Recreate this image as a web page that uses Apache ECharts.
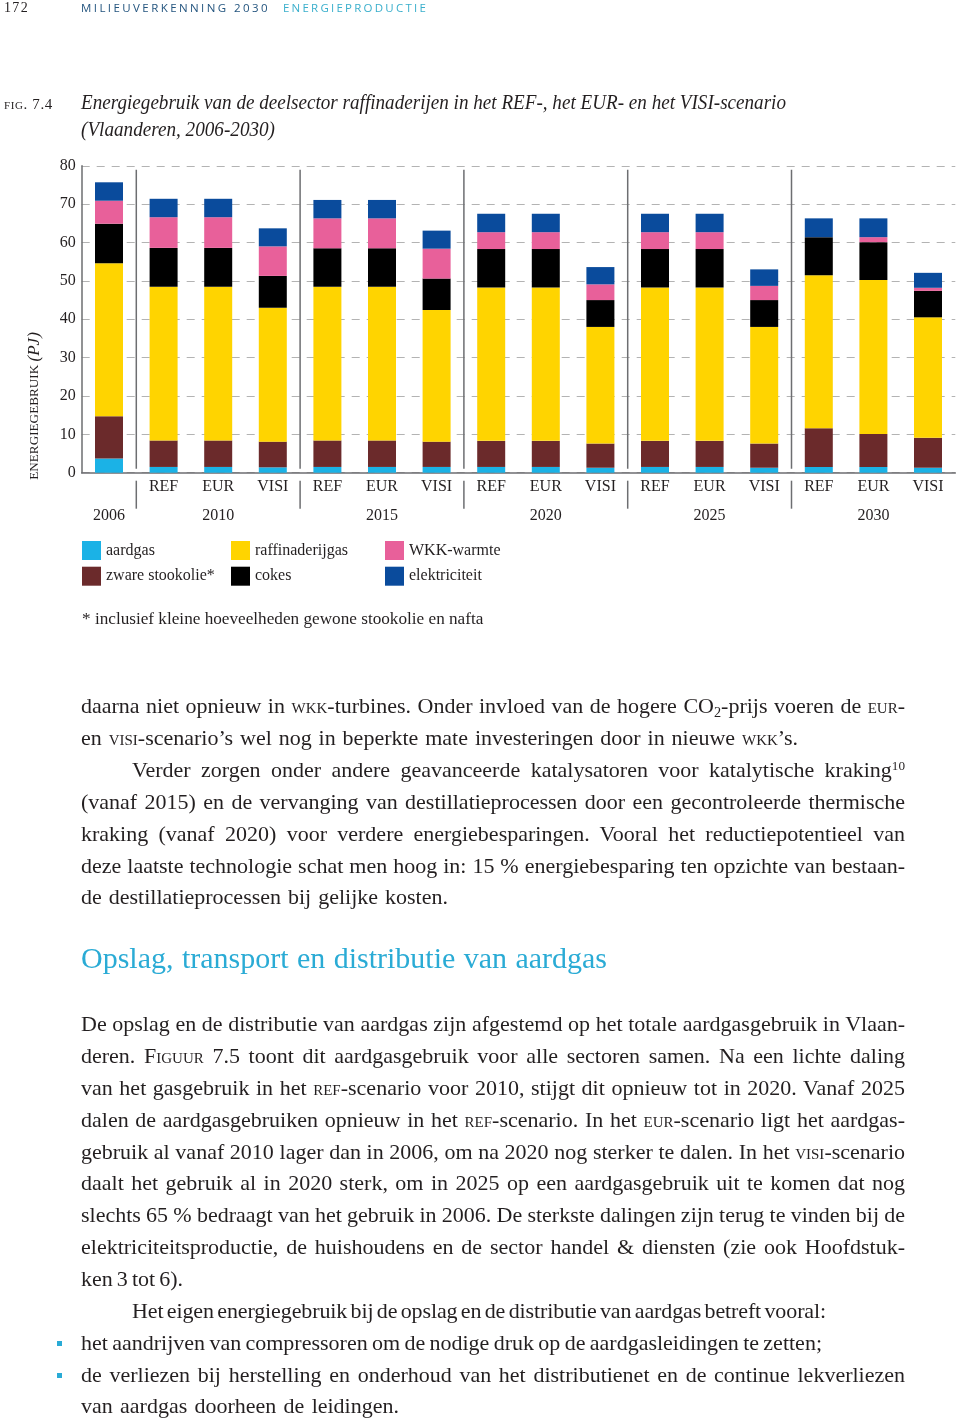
<!DOCTYPE html>
<html><head><meta charset="utf-8">
<script src="https://cdn.jsdelivr.net/npm/echarts@6/dist/echarts.min.js"></script>
<style>
html,body{margin:0;padding:0;background:#fff;}
#page{position:relative;width:960px;height:1423px;overflow:hidden;font-family:"Liberation Serif","DejaVu Serif",serif;color:#231f20;}
#chart{position:absolute;left:0;top:0;width:960px;height:1423px;}
.t{position:absolute;white-space:nowrap;transform-origin:0 50%;}
.ln{font-size:22px;line-height:32px;height:32px;}
.sc{font-variant:small-caps;}
sub{font-size:0.65em;vertical-align:-0.3em;line-height:0}
sup{font-size:0.6em;vertical-align:0.55em;line-height:0}
.bul{position:absolute;width:5px;height:5px;background:#29abd6;}
.hdr{font-family:"Open Sans","DejaVu Sans",sans-serif;font-size:11.5px;line-height:14px;}
.cap{font-style:italic;font-size:22px;line-height:26px;}
</style></head>
<body><div id="page">
<div id="chart"></div>

<div class="t" data-x="4" data-y="8" data-w="25" style="font-size:14px;line-height:16px;">172</div>
<div class="t hdr" data-x="81" data-y="8" data-w="189" data-mode="ls" style="color:#24557f;">MILIEUVERKENNING 2030</div>
<div class="t hdr" data-x="283" data-y="8" data-w="145" data-mode="ls" style="color:#3aafcc;">ENERGIEPRODUCTIE</div>

<div class="t sc" data-x="4" data-y="104" data-w="49" data-mode="ls" style="font-size:15px;line-height:18px;">fig. 7.4</div>
<div class="t cap" data-x="81" data-y="102" data-w="705" data-mode="sx">Energiegebruik van de deelsector raffinaderijen in het REF-, het EUR- en het VISI-scenario</div>
<div class="t cap" data-x="81" data-y="129" data-w="194" data-mode="sx">(Vlaanderen, 2006-2030)</div>

<div class="t ln" data-x="81" data-y="706" data-w="824">daarna niet opnieuw in <span class="sc">wkk</span>-turbines. Onder invloed van de hogere CO<sub>2</sub>-prijs voeren de <span class="sc">eur</span>-</div>
<div class="t ln" data-x="81" data-y="738" data-w="717">en <span class="sc">visi</span>-scenario’s wel nog in beperkte mate investeringen door in nieuwe <span class="sc">wkk</span>’s.</div>
<div class="t ln" data-x="132" data-y="770" data-w="773">Verder zorgen onder andere geavanceerde katalysatoren voor katalytische kraking<sup>10</sup></div>
<div class="t ln" data-x="81" data-y="802" data-w="824">(vanaf 2015) en de vervanging van destillatieprocessen door een gecontroleerde thermische</div>
<div class="t ln" data-x="81" data-y="834" data-w="824">kraking (vanaf 2020) voor verdere energiebesparingen. Vooral het reductiepotentieel van</div>
<div class="t ln" data-x="81" data-y="866" data-w="824">deze laatste technologie schat men hoog in: 15 % energiebesparing ten opzichte van bestaan-</div>
<div class="t ln" data-x="81" data-y="897" data-w="367">de destillatieprocessen bij gelijke kosten.</div>

<div class="t" data-x="81" data-y="958" data-w="526" style="font-size:30px;line-height:36px;color:#2aabd5;">Opslag, transport en distributie van aardgas</div>

<div class="t ln" data-x="81" data-y="1024" data-w="824">De opslag en de distributie van aardgas zijn afgestemd op het totale aardgasgebruik in Vlaan-</div>
<div class="t ln" data-x="81" data-y="1056" data-w="824">deren. F<span class="sc">iguur</span> 7.5 toont dit aardgasgebruik voor alle sectoren samen. Na een lichte daling</div>
<div class="t ln" data-x="81" data-y="1088" data-w="824">van het gasgebruik in het <span class="sc">ref</span>-scenario voor 2010, stijgt dit opnieuw tot in 2020. Vanaf 2025</div>
<div class="t ln" data-x="81" data-y="1120" data-w="824">dalen de aardgasgebruiken opnieuw in het <span class="sc">ref</span>-scenario. In het <span class="sc">eur</span>-scenario ligt het aardgas-</div>
<div class="t ln" data-x="81" data-y="1152" data-w="824">gebruik al vanaf 2010 lager dan in 2006, om na 2020 nog sterker te dalen. In het <span class="sc">visi</span>-scenario</div>
<div class="t ln" data-x="81" data-y="1183" data-w="824">daalt het gebruik al in 2020 sterk, om in 2025 op een aardgasgebruik uit te komen dat nog</div>
<div class="t ln" data-x="81" data-y="1215" data-w="824">slechts 65 % bedraagt van het gebruik in 2006. De sterkste dalingen zijn terug te vinden bij de</div>
<div class="t ln" data-x="81" data-y="1247" data-w="824">elektriciteitsproductie, de huishoudens en de sector handel &amp; diensten (zie ook Hoofdstuk-</div>
<div class="t ln" data-x="81" data-y="1279" data-w="102">ken 3 tot 6).</div>
<div class="t ln" data-x="132" data-y="1311" data-w="694">Het eigen energiegebruik bij de opslag en de distributie van aardgas betreft vooral:</div>
<div class="bul" style="left:57px;top:1341px;"></div>
<div class="t ln" data-x="81" data-y="1343" data-w="741">het aandrijven van compressoren om de nodige druk op de aardgasleidingen te zetten;</div>
<div class="bul" style="left:57px;top:1373px;"></div>
<div class="t ln" data-x="81" data-y="1375" data-w="824">de verliezen bij herstelling en onderhoud van het distributienet en de continue lekverliezen</div>
<div class="t ln" data-x="81" data-y="1406" data-w="318">van aardgas doorheen de leidingen.</div>
</div>

<script>
// ---- data (PJ) ----
const scenarios = ['', 'REF', 'EUR', 'VISI', 'REF', 'EUR', 'VISI', 'REF', 'EUR', 'VISI', 'REF', 'EUR', 'VISI', 'REF', 'EUR', 'VISI'];
const yearLabels = ['2006', '', '2010', '', '', '2015', '', '', '2020', '', '', '2025', '', '', '2030', ''];
const aardgas        = [3.7, 1.5, 1.5, 1.4, 1.5, 1.5, 1.5, 1.5, 1.5, 1.3, 1.5, 1.5, 1.3, 1.5, 1.5, 1.3];
const zwareStookolie = [11.0, 6.9, 6.9, 6.7, 6.9, 6.9, 6.6, 6.8, 6.8, 6.3, 6.8, 6.8, 6.3, 10.1, 8.6, 7.8];
const raffinaderijgas= [39.9, 40.1, 40.1, 34.9, 40.1, 40.1, 34.3, 40.0, 40.0, 30.4, 40.0, 40.0, 30.4, 39.9, 40.1, 31.4];
const cokes          = [10.3, 10.1, 10.1, 8.3, 10.0, 10.0, 8.2, 10.0, 10.0, 7.0, 10.0, 10.0, 7.0, 9.9, 9.9, 6.9];
const wkkWarmte      = [6.0, 8.0, 8.0, 7.7, 7.8, 7.8, 7.8, 4.4, 4.4, 4.1, 4.4, 4.4, 3.7, 0, 1.3, 0.8];
const elektriciteit  = [4.8, 4.8, 4.8, 4.7, 4.8, 4.8, 4.7, 4.8, 4.8, 4.5, 4.8, 4.8, 4.3, 4.9, 4.9, 3.9];
const groupStarts = [1, 4, 7, 10, 13];

const FONT = '"Liberation Serif","DejaVu Serif",serif';
const INK = '#231f20';
const SEP = '#6d6e71';

function bar(name, data, color) {
  return {name, type: 'bar', stack: 'total', data, barWidth: 28, silent: true,
    itemStyle: {color}, emphasis: {disabled: true}};
}
const legendBase = {orient: 'vertical', top: 541, itemWidth: 19, itemHeight: 19, itemGap: 6.7,
  icon: 'rect', selectedMode: false, padding: 0,
  textStyle: {fontFamily: FONT, fontSize: 16, color: INK}};

const chart = echarts.init(document.getElementById('chart'), null, {renderer: 'canvas'});
chart.setOption({
  animation: false,
  grid: {left: 81.7, right: 4.7, top: 165.8, bottom: 950.3, containLabel: false},
  xAxis: [{
    type: 'category', data: scenarios,
    axisLine: {lineStyle: {color: SEP, width: 1.5}},
    axisTick: {show: false},
    axisLabel: {interval: 0, margin: 6, fontFamily: FONT, fontSize: 16, color: INK},
    splitLine: {show: false}
  }, {
    type: 'category', data: yearLabels, position: 'bottom', offset: 8,
    axisLine: {show: false},
    axisTick: {show: false},
    axisLabel: {interval: 0, margin: 27, fontFamily: FONT, fontSize: 16, color: INK},
    splitLine: {show: false}
  }],
  yAxis: {
    type: 'value', min: 0, max: 80, interval: 10,
    axisLine: {show: true, lineStyle: {color: SEP, width: 1.5}},
    axisTick: {show: false},
    axisLabel: {margin: 6, fontFamily: FONT, fontSize: 16, color: INK},
    splitLine: {show: true, lineStyle: {color: '#b3b3b3', width: 1, type: [8, 7]}}
  },
  legend: [
    Object.assign({}, legendBase, {left: 82, data: ['aardgas', 'zware stookolie*']}),
    Object.assign({}, legendBase, {left: 231, data: ['raffinaderijgas', 'cokes']}),
    Object.assign({}, legendBase, {left: 385, data: ['WKK-warmte', 'elektriciteit']})
  ],
  graphic: [
    {type: 'text', x: 35, y: 406, rotation: Math.PI / 2, silent: true,
      style: {text: '{a|ENERGIEGEBRUIK} {b|(PJ)}', align: 'center', verticalAlign: 'middle',
        rich: {a: {fontFamily: FONT, fontSize: 13.2, fill: INK},
               b: {fontFamily: FONT, fontSize: 17, fontStyle: 'italic', fill: INK}}}},
    {type: 'text', x: 82, y: 619, silent: true,
      style: {text: '* inclusief kleine hoeveelheden gewone stookolie en nafta', verticalAlign: 'middle',
        fontFamily: FONT, fontSize: 17.2, fill: INK}}
  ],
  series: [
    bar('aardgas', aardgas, '#1bb2e6'),
    bar('zware stookolie*', zwareStookolie, '#6b2a2b'),
    bar('raffinaderijgas', raffinaderijgas, '#ffd400'),
    bar('cokes', cokes, '#000000'),
    bar('WKK-warmte', wkkWarmte, '#e8609a'),
    bar('elektriciteit', elektriciteit, '#0a4b9c'),
    {
      type: 'custom', name: 'groupSeparators', silent: true, clip: false, z: 1,
      data: groupStarts.map(i => [i]),
      encode: {x: 0},
      renderItem: function (params, api) {
        const idx = api.value(0);
        const half = api.size([1, 0])[0] / 2;
        const x = api.coord([idx, 0])[0] - half;
        const y0 = api.coord([idx, 0])[1];
        const yTop = api.coord([idx, 80])[1];
        const st = {stroke: SEP, lineWidth: 1.5};
        return {type: 'group', children: [
          {type: 'line', shape: {x1: x, y1: yTop + 4, x2: x, y2: y0 - 4}, style: st},
          {type: 'line', shape: {x1: x, y1: y0 + 8, x2: x, y2: y0 + 36}, style: st}
        ]};
      }
    }
  ]
});

// ---- page text layout ----
function fit(el, w) {
  el.style.wordSpacing = '0px';
  el.style.letterSpacing = '0px';
  el.style.transform = 'none';
  const nat = el.getBoundingClientRect().width;
  const txt = el.textContent;
  const spaces = (txt.match(/ /g) || []).length;
  const diff = w - nat;
  const mode = el.dataset.mode;
  if (mode === 'sx') {
    el.style.transform = 'scaleX(' + (w / nat) + ')';
    return;
  }
  let ws = 0, ls = 0;
  if (mode === 'ls' || spaces === 0) {
    ls = diff / txt.length;
  } else {
    ws = diff / spaces;
    if (ws < -2) { ws = -2; ls = (diff + 2 * spaces) / txt.length; }
  }
  el.style.wordSpacing = ws + 'px';
  el.style.letterSpacing = ls + 'px';
}
function layout() {
  document.querySelectorAll('.t').forEach(el => {
    const x = +el.dataset.x, y = +el.dataset.y, w = +el.dataset.w;
    el.style.left = x + 'px';
    el.style.top = '0px';
    if (w) fit(el, w);
    el.style.top = (y - el.offsetHeight / 2) + 'px';
  });
}
layout();
if (document.fonts && document.fonts.ready) document.fonts.ready.then(layout);
</script>
</body></html>
